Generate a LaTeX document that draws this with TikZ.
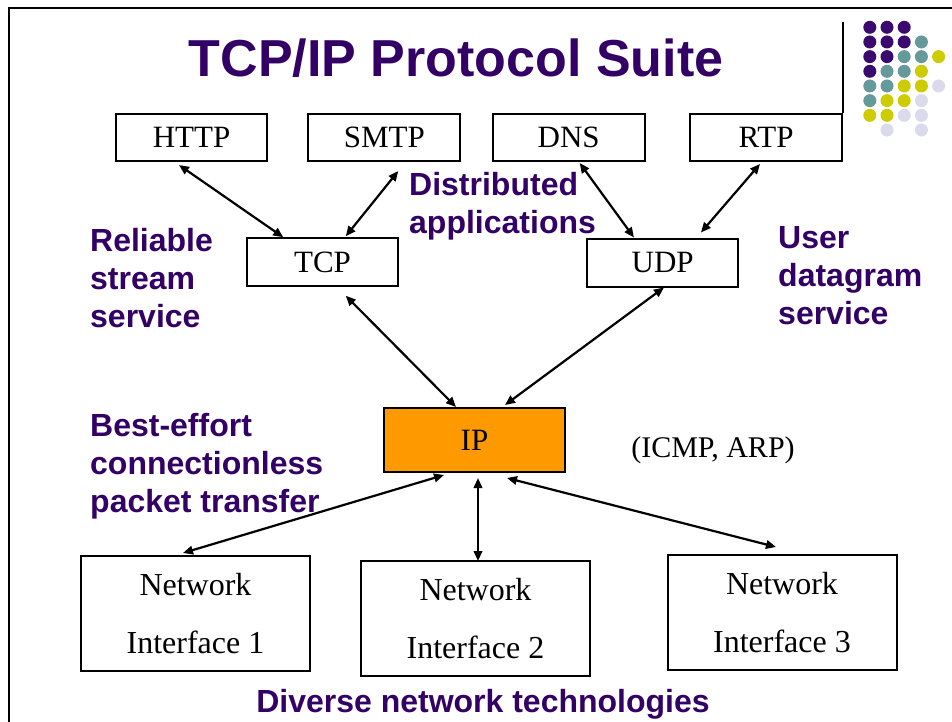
\documentclass[tikz,border=0pt]{standalone}
\usepackage{fontspec}
\setmainfont{Liberation Serif}
\setsansfont{Liberation Sans}
\usetikzlibrary{arrows.meta}

\definecolor{deeppurple}{HTML}{330066}
\definecolor{dotpurple}{HTML}{3A0A6E}
\definecolor{dotteal}{HTML}{669999}
\definecolor{dotyellow}{HTML}{CCCC00}
\definecolor{dotlavender}{HTML}{DADAEC}
\definecolor{iporange}{HTML}{FF9900}

\begin{document}
\begin{tikzpicture}[x=1pt,y=-1pt,
  box/.style={draw=black, line width=2pt, fill=white, inner sep=0pt,
    font=\fontsize{31}{36}\selectfont},
  ifbox/.style={box, minimum width=229pt, minimum height=115pt, align=center,
    font=\fontsize{32}{58}\selectfont},
  link/.style={line width=2.2pt,
    {Triangle[length=10pt,width=8.5pt]}-{Triangle[length=10pt,width=8.5pt]}},
  note/.style={font=\sffamily\bfseries\fontsize{32}{38}\selectfont,
    text=deeppurple, align=left, anchor=north west, inner sep=0pt}]

% canvas
\useasboundingbox (0,0) rectangle (952,722);
\fill[white] (0,0) rectangle (952,722);

% slide frame
\draw[line width=2pt] (9,722) -- (9,8) -- (952,8);

% corner dot pattern
\foreach \r/\cols in {1/{dotpurple,dotpurple,dotpurple},
                      2/{dotpurple,dotpurple,dotpurple,dotteal},
                      3/{dotpurple,dotpurple,dotteal,dotteal,dotyellow},
                      4/{dotpurple,dotteal,dotteal,dotyellow},
                      5/{dotteal,dotteal,dotyellow,dotyellow,dotlavender},
                      6/{dotteal,dotyellow,dotyellow,dotlavender},
                      7/{dotyellow,dotyellow,dotlavender,dotlavender},
                      8/{none,dotlavender,none,dotlavender}}{
  \foreach \col [count=\i] in \cols {
    \path[fill=\col] ({869.8+17.2*(\i-1)},{27.3+14.67*(\r-1)}) circle (6.5);
  }
}

% title
\node[font=\sffamily\bfseries\fontsize{52}{62}\selectfont, text=deeppurple,
  anchor=base, inner sep=0pt] (title) at (456,77) {TCP/IP Protocol Suite};

% application layer
\node[box, minimum width=151pt, minimum height=47pt] (http) at (191.5,137.5) {HTTP};
\node[box, minimum width=152pt, minimum height=47pt] (smtp) at (384.3,137.5) {SMTP};
\node[box, minimum width=152pt, minimum height=47pt] (dns)  at (568.7,137.5) {DNS};
\node[box, minimum width=152pt, minimum height=47pt] (rtp)  at (766,137.5) {RTP};

% vertical rule above RTP
\draw[line width=1.5pt] (rtp.north east) -- ++(0,-91) coordinate (ruletop);

% transport layer
\node[box, minimum width=151.5pt, minimum height=47.5pt] (tcp) at (322.5,262) {TCP};
\node[box, minimum width=151.5pt, minimum height=48pt] (udp) at (662.7,262.5) {UDP};

% network layer
\node[box, fill=iporange, minimum width=181pt, minimum height=64pt] (ip) at (474.5,440) {IP};
\node[font=\fontsize{30}{36}\selectfont, inner sep=0pt] (icmp) at (713,450) {(ICMP, ARP)};

% interfaces
\node[ifbox] (ni1) at (195.5,613.5) {Network\\Interface 1};
\node[ifbox] (ni2) at (475.5,618.5) {Network\\Interface 2};
\node[ifbox] (ni3) at (782,612.5)   {Network\\Interface 3};

% connectors
\draw[link] ([shift={(64,3)}]http.south west) -- ([shift={(37.5,0)}]tcp.north west);
\draw[link] ([shift={(91,9)}]smtp.south west) -- ([shift={(100,-1)}]tcp.north west);
\draw[link] ([shift={(88,1)}]dns.south west)  -- ([shift={(48,0)}]udp.north west);
\draw[link] ([shift={(71,2)}]rtp.south west)  -- ([shift={(115,-5)}]udp.north west);
\draw[link] ([shift={(100,9)}]tcp.south west) -- ([shift={(73,0)}]ip.north west);
\draw[link] ([shift={(78,0)}]udp.south west)  -- ([shift={(122,-2)}]ip.north west);
\draw[link] ([shift={(61,2)}]ip.south west)   -- ([shift={(103,-2)}]ni1.north west);
\draw[link] ([shift={(95,5)}]ip.south west)   -- ([shift={(118,1)}]ni2.north west);
\draw[link] ([shift={(124,5)}]ip.south west)  -- ([shift={(109.5,-7)}]ni3.north west);

% service descriptions
\node[note] (apps)  at (409,172) {Distributed\\applications};
\node[note] (rel)   at (90,228)  {Reliable\\stream\\service};
\node[note] (user)  at (778,226) {User\\datagram\\service};
\node[note] (best)  at (90,413)  {Best-effort\\connectionless\\packet transfer};
\node[font=\sffamily\bfseries\fontsize{32}{38}\selectfont, text=deeppurple,
  anchor=base, inner sep=0pt] (diverse) at (483,712) {Diverse network technologies};

\end{tikzpicture}
\end{document}
